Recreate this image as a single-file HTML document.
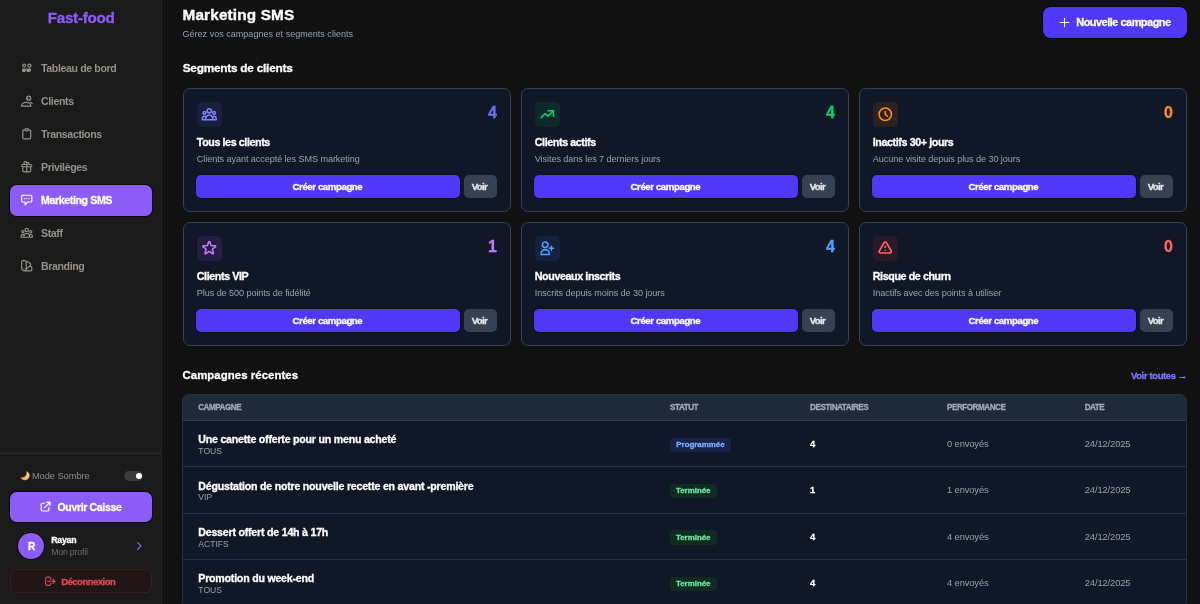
<!DOCTYPE html>
<html lang="fr"><head><meta charset="utf-8"><title>Marketing SMS</title>
<style>
*{box-sizing:border-box;margin:0;padding:0}
html,body{width:1200px;height:604px;overflow:hidden;background:#111111;font-family:"Liberation Sans",Arial,sans-serif}
.a{position:absolute}
.t{position:absolute;line-height:1;white-space:nowrap}
</style></head><body>
<div class="a" style="left:0;top:0;width:161px;height:604px;background:#1a1a1a"></div>
<div class="a" style="left:161px;top:0;width:1px;height:604px;background:#242424"></div>
<div class="a" style="left:10px;top:184.5px;width:141.5px;height:31px;background:#8b5cf6;border-radius:6.5px;box-shadow:0 0 0 1px rgba(0,0,0,0.6)"></div>
<div class="a" style="left:0;top:453px;width:161px;height:1px;background:#2a2a2a"></div>
<div class="a" style="left:123.5px;top:470.6px;width:19.8px;height:10.1px;background:#3a3a3a;border-radius:5px"></div>
<div class="a" style="left:135.8px;top:472.6px;width:6.2px;height:6.2px;background:#fff;border-radius:50%"></div>
<div class="a" style="left:10px;top:492px;width:142px;height:30.3px;background:#8b5cf6;border-radius:6.5px;box-shadow:0 0 0 1px rgba(0,0,0,0.6)"></div>
<div class="a" style="left:18.1px;top:533.1px;width:25.8px;height:25.8px;background:#8b5cf6;border-radius:50%;box-shadow:0 0 0 1px rgba(0,0,0,0.6)"></div>
<div class="a" style="left:10px;top:569px;width:142px;height:24.2px;background:#211617;border:1px solid #3d1c1f;border-radius:5.5px;box-sizing:border-box"></div>
<div class="a" style="left:182.5px;top:88.3px;width:328.5px;height:123.5px;background:#101828;border-radius:7px;border:1.5px solid #364153;box-sizing:border-box"></div>
<div class="a" style="left:197.0px;top:101.9px;width:25px;height:25px;background:rgba(97,95,255,0.11);border-radius:5px;"></div>
<div class="a" style="left:195.9px;top:175.2px;width:263.9px;height:23.2px;background:#4f39f6;border-radius:5px;box-shadow:0 0 0 1px rgba(0,0,0,0.3)"></div>
<div class="a" style="left:464.0px;top:175.2px;width:32.6px;height:23.2px;background:#364153;border-radius:5px;"></div>
<div class="a" style="left:520.5px;top:88.3px;width:328.5px;height:123.5px;background:#101828;border-radius:7px;border:1.5px solid #364153;box-sizing:border-box"></div>
<div class="a" style="left:535.0px;top:101.9px;width:25px;height:25px;background:rgba(0,201,80,0.10);border-radius:5px;"></div>
<div class="a" style="left:533.9px;top:175.2px;width:263.9px;height:23.2px;background:#4f39f6;border-radius:5px;box-shadow:0 0 0 1px rgba(0,0,0,0.3)"></div>
<div class="a" style="left:802.0px;top:175.2px;width:32.6px;height:23.2px;background:#364153;border-radius:5px;"></div>
<div class="a" style="left:858.5px;top:88.3px;width:328.5px;height:123.5px;background:#101828;border-radius:7px;border:1.5px solid #364153;box-sizing:border-box"></div>
<div class="a" style="left:873.0px;top:101.9px;width:25px;height:25px;background:rgba(255,105,0,0.11);border-radius:5px;"></div>
<div class="a" style="left:871.9px;top:175.2px;width:263.9px;height:23.2px;background:#4f39f6;border-radius:5px;box-shadow:0 0 0 1px rgba(0,0,0,0.3)"></div>
<div class="a" style="left:1140.0px;top:175.2px;width:32.6px;height:23.2px;background:#364153;border-radius:5px;"></div>
<div class="a" style="left:182.5px;top:222.0px;width:328.5px;height:123.5px;background:#101828;border-radius:7px;border:1.5px solid #364153;box-sizing:border-box"></div>
<div class="a" style="left:197.0px;top:235.6px;width:25px;height:25px;background:rgba(173,70,255,0.12);border-radius:5px;"></div>
<div class="a" style="left:195.9px;top:308.9px;width:263.9px;height:23.2px;background:#4f39f6;border-radius:5px;box-shadow:0 0 0 1px rgba(0,0,0,0.3)"></div>
<div class="a" style="left:464.0px;top:308.9px;width:32.6px;height:23.2px;background:#364153;border-radius:5px;"></div>
<div class="a" style="left:520.5px;top:222.0px;width:328.5px;height:123.5px;background:#101828;border-radius:7px;border:1.5px solid #364153;box-sizing:border-box"></div>
<div class="a" style="left:535.0px;top:235.6px;width:25px;height:25px;background:rgba(43,127,255,0.11);border-radius:5px;"></div>
<div class="a" style="left:533.9px;top:308.9px;width:263.9px;height:23.2px;background:#4f39f6;border-radius:5px;box-shadow:0 0 0 1px rgba(0,0,0,0.3)"></div>
<div class="a" style="left:802.0px;top:308.9px;width:32.6px;height:23.2px;background:#364153;border-radius:5px;"></div>
<div class="a" style="left:858.5px;top:222.0px;width:328.5px;height:123.5px;background:#101828;border-radius:7px;border:1.5px solid #364153;box-sizing:border-box"></div>
<div class="a" style="left:873.0px;top:235.6px;width:25px;height:25px;background:rgba(251,44,54,0.11);border-radius:5px;"></div>
<div class="a" style="left:871.9px;top:308.9px;width:263.9px;height:23.2px;background:#4f39f6;border-radius:5px;box-shadow:0 0 0 1px rgba(0,0,0,0.3)"></div>
<div class="a" style="left:1140.0px;top:308.9px;width:32.6px;height:23.2px;background:#364153;border-radius:5px;"></div>
<div class="a" style="left:182px;top:394px;width:1005px;height:214px;background:#1e2939;border-radius:7px;border:1px solid #263142;box-sizing:border-box"></div>
<div class="a" style="left:183px;top:420px;width:1003px;height:1px;background:#2e394a;border-radius:0px;"></div>
<div class="a" style="left:183px;top:421.0px;width:1003px;height:45.4px;background:#101828;border-radius:0px;"></div>
<div class="a" style="left:183px;top:466.4px;width:1003px;height:1px;background:#253043;border-radius:0px;"></div>
<div class="a" style="left:670.4px;top:437.6px;width:60.2px;height:14.0px;background:#15224a;border-radius:3.5px;"></div>
<div class="a" style="left:183px;top:467.4px;width:1003px;height:45.4px;background:#101828;border-radius:0px;"></div>
<div class="a" style="left:183px;top:512.8px;width:1003px;height:1px;background:#253043;border-radius:0px;"></div>
<div class="a" style="left:670.3px;top:484.0px;width:46.7px;height:14.2px;background:#0f2b22;border-radius:3.5px;"></div>
<div class="a" style="left:183px;top:513.8px;width:1003px;height:45.4px;background:#101828;border-radius:0px;"></div>
<div class="a" style="left:183px;top:559.2px;width:1003px;height:1px;background:#253043;border-radius:0px;"></div>
<div class="a" style="left:670.3px;top:530.4px;width:46.7px;height:14.2px;background:#0f2b22;border-radius:3.5px;"></div>
<div class="a" style="left:183px;top:560.2px;width:1003px;height:45.4px;background:#101828;border-radius:0px;"></div>
<div class="a" style="left:183px;top:605.6px;width:1003px;height:1px;background:#253043;border-radius:0px;"></div>
<div class="a" style="left:670.3px;top:576.8px;width:46.7px;height:14.2px;background:#0f2b22;border-radius:3.5px;"></div>
<div class="a" style="left:1042.5px;top:6.9px;width:144.5px;height:30.85px;background:#4f39f6;border-radius:7.5px;box-shadow:0 0 0 1px rgba(0,0,0,0.5)"></div>
<svg class="a" style="left:201.25px;top:106.15px;width:16.5px;height:16.5px;color:#7c86ff;" viewBox="0 0 24 24" fill="none" stroke="#7c86ff" stroke-width="2.3" stroke-linecap="round" stroke-linejoin="round"><path d="M17 20h5v-2a3 3 0 00-5.356-1.857M17 20H7m10 0v-2c0-.656-.126-1.283-.356-1.857M7 20H2v-2a3 3 0 015.356-1.857M7 20v-2c0-.656.126-1.283.356-1.857m0 0a5.002 5.002 0 019.288 0M15 7a3 3 0 11-6 0 3 3 0 016 0zm6 3a2 2 0 11-4 0 2 2 0 014 0zM7 10a2 2 0 11-4 0 2 2 0 014 0z"/></svg>
<svg class="a" style="left:539.25px;top:106.15px;width:16.5px;height:16.5px;color:#05d46a;" viewBox="0 0 24 24" fill="none" stroke="#05d46a" stroke-width="2.3" stroke-linecap="round" stroke-linejoin="round"><path d="M13 7h8m0 0v8m0-8l-8 8-4-4-6 6"/></svg>
<svg class="a" style="left:877.25px;top:106.15px;width:16.5px;height:16.5px;color:#ff8a1a;" viewBox="0 0 24 24" fill="none" stroke="#ff8a1a" stroke-width="2.3" stroke-linecap="round" stroke-linejoin="round"><path d="M12 8v4l3 3m6-3a9 9 0 11-18 0 9 9 0 0118 0z"/></svg>
<svg class="a" style="left:201.25px;top:239.85px;width:16.5px;height:16.5px;color:#c27aff;" viewBox="0 0 24 24" fill="none" stroke="#c27aff" stroke-width="2.3" stroke-linecap="round" stroke-linejoin="round"><path d="M11.049 2.927c.3-.921 1.603-.921 1.902 0l1.519 4.674a1 1 0 00.95.69h4.915c.969 0 1.371 1.24.588 1.81l-3.976 2.888a1 1 0 00-.363 1.118l1.518 4.674c.3.922-.755 1.688-1.538 1.118l-3.976-2.888a1 1 0 00-1.176 0l-3.976 2.888c-.783.57-1.838-.197-1.538-1.118l1.518-4.674a1 1 0 00-.363-1.118l-3.976-2.888c-.784-.57-.38-1.81.588-1.81h4.914a1 1 0 00.951-.69l1.519-4.674z"/></svg>
<svg class="a" style="left:539.25px;top:239.85px;width:16.5px;height:16.5px;color:#51a2ff;" viewBox="0 0 24 24" fill="none" stroke="#51a2ff" stroke-width="2.3" stroke-linecap="round" stroke-linejoin="round"><path d="M18 9v3m0 0v3m0-3h3m-3 0h-3m-2-5a4 4 0 11-8 0 4 4 0 018 0zM3 20a6 6 0 0112 0v1H3v-1z"/></svg>
<svg class="a" style="left:877.25px;top:239.85px;width:16.5px;height:16.5px;color:#ff6467;" viewBox="0 0 24 24" fill="none" stroke="#ff6467" stroke-width="2.3" stroke-linecap="round" stroke-linejoin="round"><path d="M12 9v2m0 4h.01m-6.938 4h13.856c1.54 0 2.502-1.667 1.732-3L13.732 4c-.77-1.333-2.694-1.333-3.464 0L3.34 16c-.77 1.333.192 3 1.732 3z"/></svg>
<svg class="a" style="left:19.8px;top:60.7px;width:13.5px;height:13.5px;color:#96928c;" viewBox="0 0 24 24" fill="none" stroke="#96928c" stroke-width="2.1" stroke-linecap="round" stroke-linejoin="round"><circle cx="7.4" cy="8.2" r="2.6"/><circle cx="16.8" cy="8.2" r="2.8"/><path d="M4.8 14.6h4.4v2.6a1.4 1.4 0 0 1-1.4 1.4H6.2a1.4 1.4 0 0 1-1.4-1.4z" fill="currentColor"/><path d="M11.8 14.6h7a3.5 3.5 0 0 1-3.5 3.9a3.5 3.5 0 0 1-3.5-3.9z" fill="currentColor"/></svg>
<svg class="a" style="left:19.8px;top:93.8px;width:13.5px;height:13.5px;color:#96928c;" viewBox="0 0 24 24" fill="none" stroke="#96928c" stroke-width="2.1" stroke-linecap="round" stroke-linejoin="round"><circle cx="15.4" cy="7.4" r="3.6"/><path d="M11.8 7.4h2.2"/><path d="M2.6 21.6a8.4 6.6 0 0 1 16.8 0z"/><path d="M18.2 14.6l3.4 2.2"/></svg>
<svg class="a" style="left:19.8px;top:126.9px;width:13.5px;height:13.5px;color:#96928c;" viewBox="0 0 24 24" fill="none" stroke="#96928c" stroke-width="2.1" stroke-linecap="round" stroke-linejoin="round"><path d="M9 5H7a2 2 0 00-2 2v12a2 2 0 002 2h10a2 2 0 002-2V7a2 2 0 00-2-2h-2M9 5a2 2 0 002 2h2a2 2 0 002-2M9 5a2 2 0 012-2h2a2 2 0 012 2"/></svg>
<svg class="a" style="left:19.8px;top:160.0px;width:13.5px;height:13.5px;color:#96928c;" viewBox="0 0 24 24" fill="none" stroke="#96928c" stroke-width="2.1" stroke-linecap="round" stroke-linejoin="round"><path d="M12 8v13m0-13V6a2 2 0 112 2h-2zm0 0V5.5A2.5 2.5 0 109.5 8H12zm-7 4h14M5 12a2 2 0 110-4h14a2 2 0 110 4M5 12v7a2 2 0 002 2h10a2 2 0 002-2v-7"/></svg>
<svg class="a" style="left:19.8px;top:193.25px;width:13.5px;height:13.5px;color:#fff;" viewBox="0 0 24 24" fill="none" stroke="#fff" stroke-width="2.1" stroke-linecap="round" stroke-linejoin="round"><path d="M8 10h.01M12 10h.01M16 10h.01M9 16H5a2 2 0 01-2-2V6a2 2 0 012-2h14a2 2 0 012 2v8a2 2 0 01-2 2h-5l-5 5v-5z"/></svg>
<svg class="a" style="left:19.8px;top:226.2px;width:13.5px;height:13.5px;color:#96928c;" viewBox="0 0 24 24" fill="none" stroke="#96928c" stroke-width="2.1" stroke-linecap="round" stroke-linejoin="round"><path d="M17 20h5v-2a3 3 0 00-5.356-1.857M17 20H7m10 0v-2c0-.656-.126-1.283-.356-1.857M7 20H2v-2a3 3 0 015.356-1.857M7 20v-2c0-.656.126-1.283.356-1.857m0 0a5.002 5.002 0 019.288 0M15 7a3 3 0 11-6 0 3 3 0 016 0zm6 3a2 2 0 11-4 0 2 2 0 014 0zM7 10a2 2 0 11-4 0 2 2 0 014 0z"/></svg>
<svg class="a" style="left:19.8px;top:259.3px;width:13.5px;height:13.5px;color:#96928c;" viewBox="0 0 24 24" fill="none" stroke="#96928c" stroke-width="2.1" stroke-linecap="round" stroke-linejoin="round"><path d="M7 21a4 4 0 01-4-4V5a2 2 0 012-2h4a2 2 0 012 2v12a4 4 0 01-4 4zm0 0h12a2 2 0 002-2v-4a2 2 0 00-2-2h-2.343M11 7.343l1.657-1.657a2 2 0 012.828 0l2.829 2.829a2 2 0 010 2.828l-8.486 8.485M7 17h.01"/></svg>
<svg class="a" style="left:19.5px;top:471.0px;width:10px;height:10px;overflow:visible" viewBox="0 0 10 10"><defs><linearGradient id="mg" x1="1" y1="0" x2="0" y2="1"><stop offset="0" stop-color="#fde08a"/><stop offset="1" stop-color="#f49a4e"/></linearGradient></defs><path d="M6.3 0.18A4.6 4.6 0 1 1 0.58 5.9A4.3 4.3 0 0 0 6.3 0.18Z" fill="url(#mg)"/></svg>
<svg class="a" style="left:39.2px;top:500.3px;width:13.2px;height:13.2px;color:#fff;" viewBox="0 0 24 24" fill="none" stroke="#fff" stroke-width="2.2" stroke-linecap="round" stroke-linejoin="round"><path d="M10 6H6a2 2 0 00-2 2v10a2 2 0 002 2h10a2 2 0 002-2v-4M14 4h6m0 0v6m0-6L10 14"/></svg>
<svg class="a" style="left:132.6px;top:539.6px;width:12px;height:12px;color:#8b5cf6;" viewBox="0 0 24 24" fill="none" stroke="#8b5cf6" stroke-width="2.2" stroke-linecap="round" stroke-linejoin="round"><path d="M9 5l7 7-7 7"/></svg>
<svg class="a" style="left:43.8px;top:574.8px;width:12.5px;height:12.5px;color:#e2474e;" viewBox="0 0 24 24" fill="none" stroke="#e2474e" stroke-width="2.1" stroke-linecap="round" stroke-linejoin="round"><path d="M17 16l4-4m0 0l-4-4m4 4H7m6 4v1a3 3 0 01-3 3H6a3 3 0 01-3-3V7a3 3 0 013-3h4a3 3 0 013 3v1"/></svg>
<svg class="a" style="left:1057.5px;top:15.6px;width:13px;height:13px;color:#fff;" viewBox="0 0 24 24" fill="none" stroke="#fff" stroke-width="2" stroke-linecap="round" stroke-linejoin="round"><path d="M12 4v16m8-8H4"/></svg>
<div class="t" id="logo" style="left:47.70px;top:10.13px;font-size:15.2px;font-weight:700;color:#8b5cf6;letter-spacing:-0.255px;-webkit-text-stroke:0.3px #8b5cf6;">Fast-food</div>
<div class="t" id="nav0" style="left:41.00px;top:63.43px;font-size:10.6px;font-weight:700;color:#96928c;letter-spacing:-0.379px;-webkit-text-stroke:0px;">Tableau de bord</div>
<div class="t" id="nav1" style="left:41.00px;top:96.13px;font-size:10.6px;font-weight:700;color:#96928c;letter-spacing:-0.379px;-webkit-text-stroke:0px;">Clients</div>
<div class="t" id="nav2" style="left:41.00px;top:129.13px;font-size:10.6px;font-weight:700;color:#96928c;letter-spacing:-0.379px;-webkit-text-stroke:0px;">Transactions</div>
<div class="t" id="nav3" style="left:41.00px;top:162.13px;font-size:10.6px;font-weight:700;color:#96928c;letter-spacing:-0.379px;-webkit-text-stroke:0px;">Privilèges</div>
<div class="t" id="nav4" style="left:41.00px;top:194.83px;font-size:10.6px;font-weight:700;color:#fff;letter-spacing:-0.379px;-webkit-text-stroke:0.3px #fff;">Marketing SMS</div>
<div class="t" id="nav5" style="left:41.00px;top:228.13px;font-size:10.6px;font-weight:700;color:#96928c;letter-spacing:-0.379px;-webkit-text-stroke:0px;">Staff</div>
<div class="t" id="nav6" style="left:41.00px;top:261.13px;font-size:10.6px;font-weight:700;color:#96928c;letter-spacing:-0.379px;-webkit-text-stroke:0px;">Branding</div>
<div class="t" id="mode" style="left:31.90px;top:471.14px;font-size:9.4px;font-weight:400;color:#8f8f8f;letter-spacing:-0.100px;">Mode Sombre</div>
<div class="t" id="ouvrir" style="left:57.50px;top:501.71px;font-size:10.5px;font-weight:700;color:#fff;letter-spacing:-0.332px;-webkit-text-stroke:0.3px #fff;">Ouvrir Caisse</div>
<div class="t" id="R" style="left:27.90px;top:542.07px;font-size:10.2px;font-weight:700;color:#fff;letter-spacing:0.000px;-webkit-text-stroke:0.3px #fff;">R</div>
<div class="t" id="rayan" style="left:51.20px;top:536.25px;font-size:8.8px;font-weight:700;color:#fff;letter-spacing:-0.250px;-webkit-text-stroke:0.3px #fff;">Rayan</div>
<div class="t" id="profil" style="left:51.20px;top:547.55px;font-size:8.8px;font-weight:400;color:#6c6c6c;letter-spacing:-0.220px;">Mon profil</div>
<div class="t" id="deco" style="left:61.20px;top:576.96px;font-size:9.5px;font-weight:700;color:#e2474e;letter-spacing:-0.500px;-webkit-text-stroke:0.3px #e2474e;">Déconnexion</div>
<div class="t" id="h1" style="left:182.50px;top:6.65px;font-size:15.3px;font-weight:700;color:#fff;letter-spacing:0.169px;-webkit-text-stroke:0.35px #fff;">Marketing SMS</div>
<div class="t" id="sub" style="left:182.50px;top:29.68px;font-size:9.0px;font-weight:400;color:#99a1af;letter-spacing:0.025px;">Gérez vos campagnes et segments clients</div>
<div class="t" id="nouv" style="left:1076.25px;top:16.97px;font-size:10.9px;font-weight:700;color:#fff;letter-spacing:-0.466px;-webkit-text-stroke:0.3px #fff;">Nouvelle campagne</div>
<div class="t" id="seg" style="left:182.70px;top:63.11px;font-size:11.8px;font-weight:700;color:#fff;letter-spacing:-0.222px;-webkit-text-stroke:0.3px #fff;">Segments de clients</div>
<div class="t" id="camp" style="left:182.50px;top:369.85px;font-size:11.4px;font-weight:700;color:#fff;letter-spacing:0.057px;-webkit-text-stroke:0.3px #fff;">Campagnes récentes</div>
<div class="t" id="voirt" style="left:1131.00px;top:370.74px;font-size:9.4px;font-weight:700;color:#7a7cff;letter-spacing:-0.333px;-webkit-text-stroke:0.3px #7a7cff;">Voir toutes →</div>
<div class="t" id="num0" style="left:488.10px;top:105.16px;font-size:16.0px;font-weight:700;color:#6f6cff;letter-spacing:0.000px;-webkit-text-stroke:0.3px #6f6cff;">4</div>
<div class="t" id="ct0" style="left:196.80px;top:137.34px;font-size:10.7px;font-weight:700;color:#fff;letter-spacing:-0.393px;-webkit-text-stroke:0.3px #fff;">Tous les clients</div>
<div class="t" id="cd0" style="left:196.80px;top:154.80px;font-size:9.1px;font-weight:400;color:#99a1af;letter-spacing:-0.075px;">Clients ayant accepté les SMS marketing</div>
<div class="t" id="cb0" style="left:292.50px;top:181.97px;font-size:9.6px;font-weight:700;color:#fff;letter-spacing:-0.386px;-webkit-text-stroke:0.3px #fff;">Créer campagne</div>
<div class="t" id="cv0" style="left:471.70px;top:181.97px;font-size:9.6px;font-weight:700;color:#e5e7eb;letter-spacing:-0.666px;-webkit-text-stroke:0.3px #e5e7eb;">Voir</div>
<div class="t" id="num1" style="left:826.10px;top:105.16px;font-size:16.0px;font-weight:700;color:#05d46a;letter-spacing:0.000px;-webkit-text-stroke:0.3px #05d46a;">4</div>
<div class="t" id="ct1" style="left:534.80px;top:137.34px;font-size:10.7px;font-weight:700;color:#fff;letter-spacing:-0.393px;-webkit-text-stroke:0.3px #fff;">Clients actifs</div>
<div class="t" id="cd1" style="left:534.80px;top:154.80px;font-size:9.1px;font-weight:400;color:#99a1af;letter-spacing:-0.075px;">Visites dans les 7 derniers jours</div>
<div class="t" id="cb1" style="left:630.50px;top:181.97px;font-size:9.6px;font-weight:700;color:#fff;letter-spacing:-0.386px;-webkit-text-stroke:0.3px #fff;">Créer campagne</div>
<div class="t" id="cv1" style="left:809.70px;top:181.97px;font-size:9.6px;font-weight:700;color:#e5e7eb;letter-spacing:-0.666px;-webkit-text-stroke:0.3px #e5e7eb;">Voir</div>
<div class="t" id="num2" style="left:1164.10px;top:105.16px;font-size:16.0px;font-weight:700;color:#ff8a1a;letter-spacing:0.000px;-webkit-text-stroke:0.3px #ff8a1a;">0</div>
<div class="t" id="ct2" style="left:872.80px;top:137.34px;font-size:10.7px;font-weight:700;color:#fff;letter-spacing:-0.393px;-webkit-text-stroke:0.3px #fff;">Inactifs 30+ jours</div>
<div class="t" id="cd2" style="left:872.80px;top:154.80px;font-size:9.1px;font-weight:400;color:#99a1af;letter-spacing:-0.075px;">Aucune visite depuis plus de 30 jours</div>
<div class="t" id="cb2" style="left:968.50px;top:181.97px;font-size:9.6px;font-weight:700;color:#fff;letter-spacing:-0.386px;-webkit-text-stroke:0.3px #fff;">Créer campagne</div>
<div class="t" id="cv2" style="left:1147.70px;top:181.97px;font-size:9.6px;font-weight:700;color:#e5e7eb;letter-spacing:-0.666px;-webkit-text-stroke:0.3px #e5e7eb;">Voir</div>
<div class="t" id="num3" style="left:488.10px;top:238.86px;font-size:16.0px;font-weight:700;color:#c27aff;letter-spacing:0.000px;-webkit-text-stroke:0.3px #c27aff;">1</div>
<div class="t" id="ct3" style="left:196.80px;top:271.04px;font-size:10.7px;font-weight:700;color:#fff;letter-spacing:-0.393px;-webkit-text-stroke:0.3px #fff;">Clients VIP</div>
<div class="t" id="cd3" style="left:196.80px;top:288.50px;font-size:9.1px;font-weight:400;color:#99a1af;letter-spacing:-0.075px;">Plus de 500 points de fidélité</div>
<div class="t" id="cb3" style="left:292.50px;top:315.67px;font-size:9.6px;font-weight:700;color:#fff;letter-spacing:-0.386px;-webkit-text-stroke:0.3px #fff;">Créer campagne</div>
<div class="t" id="cv3" style="left:471.70px;top:315.67px;font-size:9.6px;font-weight:700;color:#e5e7eb;letter-spacing:-0.666px;-webkit-text-stroke:0.3px #e5e7eb;">Voir</div>
<div class="t" id="num4" style="left:826.10px;top:238.86px;font-size:16.0px;font-weight:700;color:#51a2ff;letter-spacing:0.000px;-webkit-text-stroke:0.3px #51a2ff;">4</div>
<div class="t" id="ct4" style="left:534.80px;top:271.04px;font-size:10.7px;font-weight:700;color:#fff;letter-spacing:-0.393px;-webkit-text-stroke:0.3px #fff;">Nouveaux inscrits</div>
<div class="t" id="cd4" style="left:534.80px;top:288.50px;font-size:9.1px;font-weight:400;color:#99a1af;letter-spacing:-0.075px;">Inscrits depuis moins de 30 jours</div>
<div class="t" id="cb4" style="left:630.50px;top:315.67px;font-size:9.6px;font-weight:700;color:#fff;letter-spacing:-0.386px;-webkit-text-stroke:0.3px #fff;">Créer campagne</div>
<div class="t" id="cv4" style="left:809.70px;top:315.67px;font-size:9.6px;font-weight:700;color:#e5e7eb;letter-spacing:-0.666px;-webkit-text-stroke:0.3px #e5e7eb;">Voir</div>
<div class="t" id="num5" style="left:1164.10px;top:238.86px;font-size:16.0px;font-weight:700;color:#ff6467;letter-spacing:0.000px;-webkit-text-stroke:0.3px #ff6467;">0</div>
<div class="t" id="ct5" style="left:872.80px;top:271.04px;font-size:10.7px;font-weight:700;color:#fff;letter-spacing:-0.393px;-webkit-text-stroke:0.3px #fff;">Risque de churn</div>
<div class="t" id="cd5" style="left:872.80px;top:288.50px;font-size:9.1px;font-weight:400;color:#99a1af;letter-spacing:-0.075px;">Inactifs avec des points à utiliser</div>
<div class="t" id="cb5" style="left:968.50px;top:315.67px;font-size:9.6px;font-weight:700;color:#fff;letter-spacing:-0.386px;-webkit-text-stroke:0.3px #fff;">Créer campagne</div>
<div class="t" id="cv5" style="left:1147.70px;top:315.67px;font-size:9.6px;font-weight:700;color:#e5e7eb;letter-spacing:-0.666px;-webkit-text-stroke:0.3px #e5e7eb;">Voir</div>
<div class="t" id="th0" style="left:198.20px;top:403.94px;font-size:8.1px;font-weight:700;color:#a0a8b6;letter-spacing:-0.453px;transform:scaleY(1.17);transform-origin:0 84.6%;-webkit-text-stroke:0.3px #a0a8b6;">CAMPAGNE</div>
<div class="t" id="th1" style="left:670.10px;top:403.94px;font-size:8.1px;font-weight:700;color:#a0a8b6;letter-spacing:-0.453px;transform:scaleY(1.17);transform-origin:0 84.6%;-webkit-text-stroke:0.3px #a0a8b6;">STATUT</div>
<div class="t" id="th2" style="left:810.10px;top:403.94px;font-size:8.1px;font-weight:700;color:#a0a8b6;letter-spacing:-0.453px;transform:scaleY(1.17);transform-origin:0 84.6%;-webkit-text-stroke:0.3px #a0a8b6;">DESTINATAIRES</div>
<div class="t" id="th3" style="left:947.00px;top:403.94px;font-size:8.1px;font-weight:700;color:#a0a8b6;letter-spacing:-0.453px;transform:scaleY(1.17);transform-origin:0 84.6%;-webkit-text-stroke:0.3px #a0a8b6;">PERFORMANCE</div>
<div class="t" id="th4" style="left:1084.70px;top:403.94px;font-size:8.1px;font-weight:700;color:#a0a8b6;letter-spacing:-0.453px;transform:scaleY(1.17);transform-origin:0 84.6%;-webkit-text-stroke:0.3px #a0a8b6;">DATE</div>
<div class="t" id="rt0" style="left:198.30px;top:434.13px;font-size:10.6px;font-weight:700;color:#fff;letter-spacing:-0.207px;-webkit-text-stroke:0.3px #fff;">Une canette offerte pour un menu acheté</div>
<div class="t" id="rs0" style="left:198.30px;top:446.92px;font-size:8.6px;font-weight:400;color:#99a1af;letter-spacing:0.000px;">TOUS</div>
<div class="t" id="bd0" style="left:676.30px;top:440.61px;font-size:7.9px;font-weight:700;color:#78b0ff;letter-spacing:0.000px;-webkit-text-stroke:0.3px #78b0ff;">Programmée</div>
<div class="t" id="rn0" style="left:810.10px;top:438.94px;font-size:9.4px;font-weight:700;color:#fff;letter-spacing:0.000px;-webkit-text-stroke:0.3px #fff;">4</div>
<div class="t" id="rp0" style="left:947.00px;top:438.94px;font-size:9.4px;font-weight:400;color:#99a1af;letter-spacing:-0.130px;">0 envoyés</div>
<div class="t" id="rd0" style="left:1084.70px;top:438.94px;font-size:9.4px;font-weight:400;color:#99a1af;letter-spacing:-0.114px;">24/12/2025</div>
<div class="t" id="rt1" style="left:198.30px;top:480.53px;font-size:10.6px;font-weight:700;color:#fff;letter-spacing:-0.207px;-webkit-text-stroke:0.3px #fff;">Dégustation de notre nouvelle recette en avant -première</div>
<div class="t" id="rs1" style="left:198.30px;top:493.32px;font-size:8.6px;font-weight:400;color:#99a1af;letter-spacing:0.000px;">VIP</div>
<div class="t" id="bd1" style="left:676.00px;top:487.31px;font-size:7.9px;font-weight:700;color:#6ee7a0;letter-spacing:0.000px;-webkit-text-stroke:0.3px #6ee7a0;">Terminée</div>
<div class="t" id="rn1" style="left:810.10px;top:485.34px;font-size:9.4px;font-weight:700;color:#fff;letter-spacing:0.000px;-webkit-text-stroke:0.3px #fff;">1</div>
<div class="t" id="rp1" style="left:947.00px;top:485.34px;font-size:9.4px;font-weight:400;color:#99a1af;letter-spacing:-0.130px;">1 envoyés</div>
<div class="t" id="rd1" style="left:1084.70px;top:485.34px;font-size:9.4px;font-weight:400;color:#99a1af;letter-spacing:-0.114px;">24/12/2025</div>
<div class="t" id="rt2" style="left:198.30px;top:526.93px;font-size:10.6px;font-weight:700;color:#fff;letter-spacing:-0.207px;-webkit-text-stroke:0.3px #fff;">Dessert offert de 14h à 17h</div>
<div class="t" id="rs2" style="left:198.30px;top:539.72px;font-size:8.6px;font-weight:400;color:#99a1af;letter-spacing:0.000px;">ACTIFS</div>
<div class="t" id="bd2" style="left:676.00px;top:533.71px;font-size:7.9px;font-weight:700;color:#6ee7a0;letter-spacing:0.000px;-webkit-text-stroke:0.3px #6ee7a0;">Terminée</div>
<div class="t" id="rn2" style="left:810.10px;top:531.74px;font-size:9.4px;font-weight:700;color:#fff;letter-spacing:0.000px;-webkit-text-stroke:0.3px #fff;">4</div>
<div class="t" id="rp2" style="left:947.00px;top:531.74px;font-size:9.4px;font-weight:400;color:#99a1af;letter-spacing:-0.130px;">4 envoyés</div>
<div class="t" id="rd2" style="left:1084.70px;top:531.74px;font-size:9.4px;font-weight:400;color:#99a1af;letter-spacing:-0.114px;">24/12/2025</div>
<div class="t" id="rt3" style="left:198.30px;top:573.33px;font-size:10.6px;font-weight:700;color:#fff;letter-spacing:-0.207px;-webkit-text-stroke:0.3px #fff;">Promotion du week-end</div>
<div class="t" id="rs3" style="left:198.30px;top:586.12px;font-size:8.6px;font-weight:400;color:#99a1af;letter-spacing:0.000px;">TOUS</div>
<div class="t" id="bd3" style="left:676.00px;top:580.11px;font-size:7.9px;font-weight:700;color:#6ee7a0;letter-spacing:0.000px;-webkit-text-stroke:0.3px #6ee7a0;">Terminée</div>
<div class="t" id="rn3" style="left:810.10px;top:578.14px;font-size:9.4px;font-weight:700;color:#fff;letter-spacing:0.000px;-webkit-text-stroke:0.3px #fff;">4</div>
<div class="t" id="rp3" style="left:947.00px;top:578.14px;font-size:9.4px;font-weight:400;color:#99a1af;letter-spacing:-0.130px;">4 envoyés</div>
<div class="t" id="rd3" style="left:1084.70px;top:578.14px;font-size:9.4px;font-weight:400;color:#99a1af;letter-spacing:-0.114px;">24/12/2025</div>
</body></html>
